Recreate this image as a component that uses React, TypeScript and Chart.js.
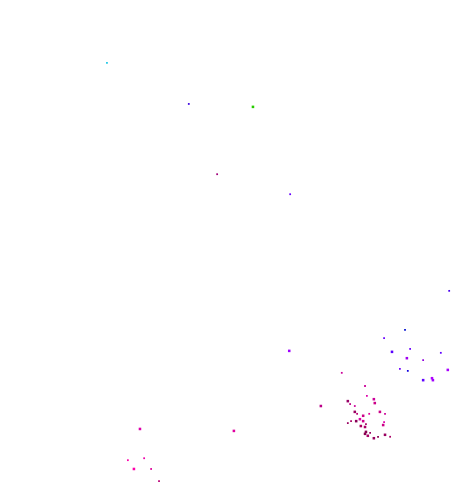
import React, { useEffect, useRef } from "react";
import { Chart, registerables } from "chart.js";

Chart.register(...registerables);

// Point values (x, y) on a 0–100 scale
const xValues: number[] = [
  23.0, 40.6, 54.4, 46.7, 62.4, 96.6, 62.2,
  87.1, 82.6, 84.3, 88.2, 87.5, 91.0, 94.8, 86.0, 87.7, 91.0, 92.9, 93.1, 96.3,
  73.5, 78.5, 78.9, 80.4, 80.6, 74.8, 75.3, 76.3, 76.3, 76.8, 78.1, 79.4, 81.7, 82.8,
  77.4, 78.1, 75.5, 76.6, 74.8, 78.7, 77.6, 78.5, 82.4, 82.6, 78.7, 78.5, 79.6, 79.1,
  80.4, 81.3, 82.8, 83.9, 69.0,
  30.1, 50.3, 27.5, 31.0, 28.8, 32.5, 34.2,
];
const yValues: number[] = [
  87.1, 78.7, 78.1, 64.3, 60.2, 40.4, 28.1,
  32.4, 30.7, 27.9, 28.5, 26.6, 26.2, 27.7, 24.4, 24.0, 22.1, 22.5, 22.1, 24.2,
  23.6, 20.9, 18.9, 18.2, 17.4, 17.8, 17.2, 16.8, 15.6, 15.2, 14.8, 15.2, 15.6, 15.2,
  14.1, 13.7, 13.7, 13.7, 13.3, 13.1, 12.7, 12.5, 12.9, 13.5, 11.5, 11.1, 11.3, 10.7,
  10.2, 10.5, 10.9, 10.5, 16.8,
  12.1, 11.7, 5.7, 6.1, 3.9, 3.9, 1.4,
];
// Relative weight of each point
const weights: number[] = [
  1, 1, 2, 1, 1, 1, 2,
  1, 1, 2, 1, 2, 1, 1, 1, 1, 2, 2, 2, 2,
  1, 1, 1, 2, 2, 2, 1, 1, 2, 1, 2, 1, 2, 1,
  2, 2, 1, 2, 1, 1, 2, 2, 2, 1, 2, 2, 1, 2,
  2, 1, 2, 1, 2,
  2, 2, 1, 1, 2, 1, 1,
];

const pointColors: string[] = [
  "#1ec8e6", "#3a00e0", "#28cc00", "#a0007a", "#6600ff", "#4a00f0", "#a000ff",
  "#0010d0", "#6a00ff", "#5a00ff", "#6a00ff", "#a000f0", "#9000e0", "#6000ff", "#7000ff", "#1000e0", "#6000ff", "#b000ff", "#a000ff", "#a800ff",
  "#cc0099", "#cc0099", "#dd00aa", "#cc0099", "#cc0088", "#990066", "#bb0088", "#cc0099", "#990060", "#bb0077", "#cc0088", "#dd0099", "#cc0088", "#cc0099",
  "#dd00aa", "#cc0088", "#aa0066", "#880055", "#990060", "#aa0066", "#aa0060", "#aa0066", "#cc0088", "#dd00aa", "#880050", "#880050", "#990060", "#aa0066",
  "#990060", "#880050", "#990060", "#aa0066", "#bb0088",
  "#dd00aa", "#e000a0", "#ff00aa", "#ee00aa", "#ff00aa", "#dd0099", "#bb0077",
];

export default function App() {
  const ref = useRef<HTMLCanvasElement | null>(null);

  useEffect(() => {
    if (!ref.current) return;
    const data = xValues.map((x, i) => ({ x, y: yValues[i] }));
    const chart = new Chart(ref.current, {
      type: "scatter",
      data: {
        datasets: [
          {
            data,
            pointBackgroundColor: pointColors,
            pointBorderWidth: 0,
            borderWidth: 0,
            pointRadius: weights.map((w) => 0.7 + 0.55 * w),
            pointStyle: "rect",
            clip: false,
          } as any,
        ],
      },
      options: {
        animation: false,
        responsive: true,
        maintainAspectRatio: false,
        layout: { padding: 0, autoPadding: false },
        scales: {
          x: { type: "linear", min: 0, max: 100, display: false },
          y: { type: "linear", min: 0, max: 100, display: false },
        },
        plugins: {
          legend: { display: false },
          tooltip: { enabled: false },
        },
      },
    });
    return () => chart.destroy();
  }, []);

  return (
    <div style={{ position: "fixed", left: 0, top: 0, width: 465, height: 488, background: "#fff" }}>
      <canvas ref={ref} />
    </div>
  );
}
